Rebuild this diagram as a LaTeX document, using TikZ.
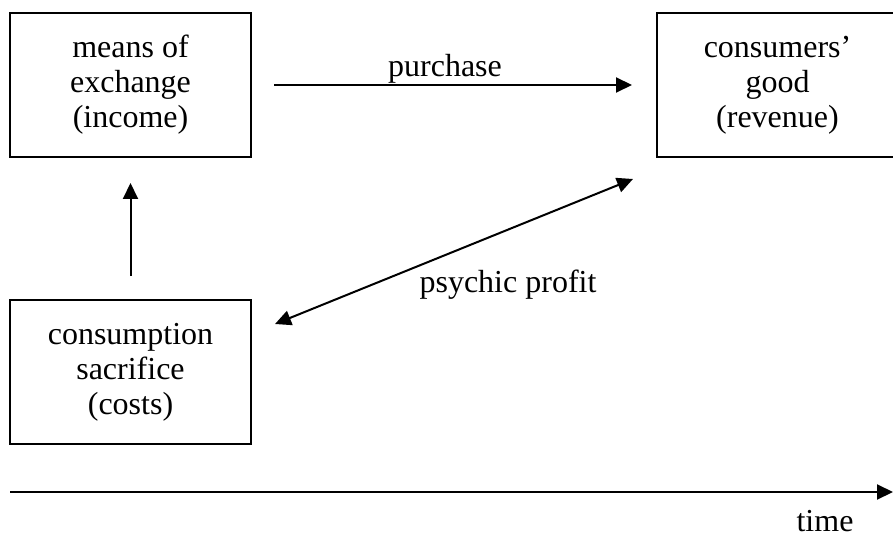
\documentclass[tikz,border=0pt]{standalone}
\usepackage{fontspec}
\setmainfont{Liberation Serif}
\usetikzlibrary{arrows.meta}

\begin{document}
\begin{tikzpicture}[x=1pt,y=-1pt]
	\useasboundingbox (0,0) rectangle (893,537);
	\begin{scope}[every node/.style={draw,line width=2pt,minimum width=241pt,minimum height=144pt,align=center,font=\fontsize{32}{35}\selectfont}]
	    	\node (income) at (130.5,85) {means of\\exchange\\(income)};
	    	\node (revenue) at (777.5,85) {consumers'\\good\\(revenue)};
	    	\node (costs) at (130.5,372) {consumption\\sacrifice\\(costs)};
	\end{scope}

	\coordinate (pp1) at (275,324);
	\coordinate (pp2) at (633,179);
	\coordinate (t0) at (10,492);
	\coordinate (t1) at (893,492);

	\begin{scope}[>={Triangle[length=16pt,width=15pt]},
	              line width=2pt,
	              every node/.style={anchor=base,inner sep=0pt,font=\fontsize{32}{35}\selectfont}]
		\draw[->,shorten <=22pt,shorten >=24pt] (income) -- (revenue);
		\draw[->,shorten <=23pt,shorten >=25pt] (costs) -- (income);
		\draw[<->] (pp1) -- (pp2);
		\draw[->] (t0) -- (t1);

		\node (purchase) at (445,77) {purchase};
		\node (psychic) at (508,292) {psychic profit};
		\node (time) at (825,531) {time};
	\end{scope}
\end{tikzpicture}
\end{document}
